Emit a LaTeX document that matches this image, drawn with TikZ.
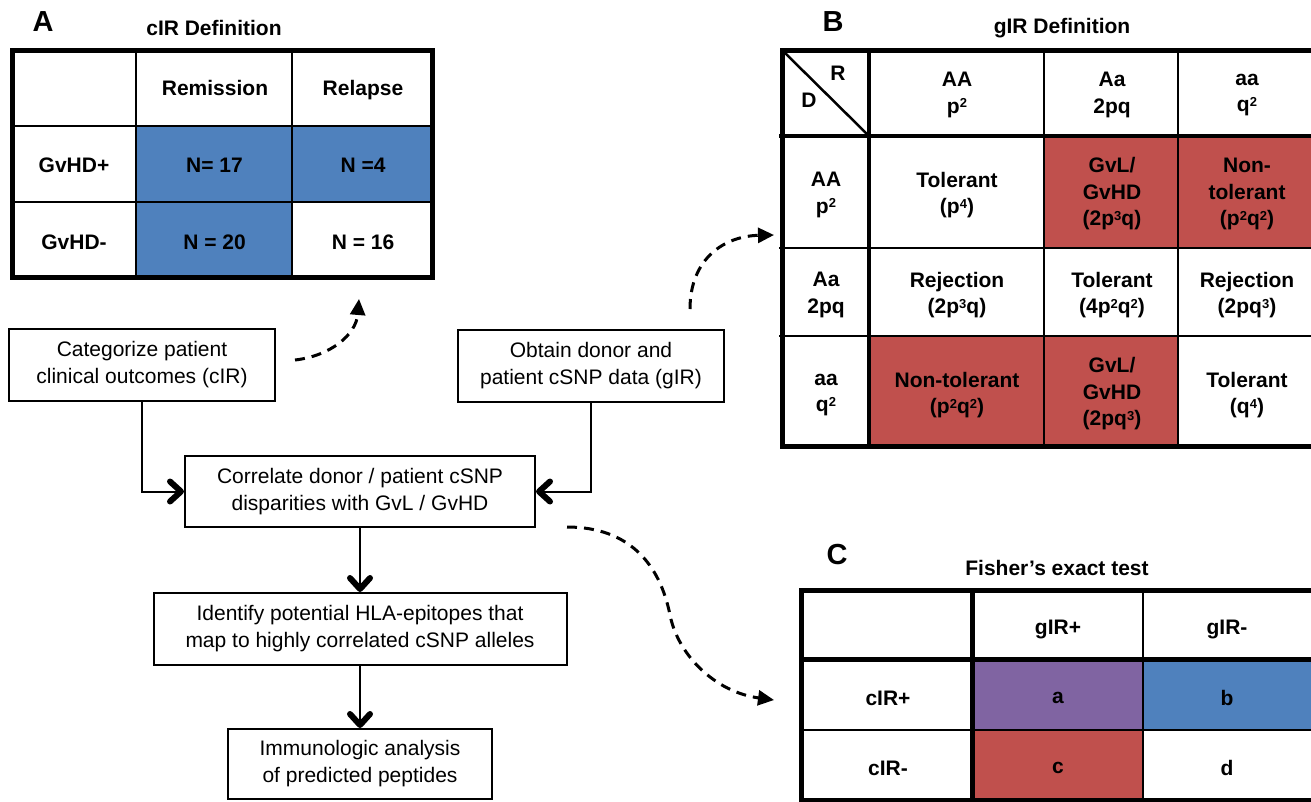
\documentclass[tikz,border=0pt]{standalone}
\usepackage{fontspec}
\setmainfont{Liberation Sans}
\usetikzlibrary{arrows.meta}
\definecolor{cblue}{HTML}{4F81BD}
\definecolor{cred}{HTML}{C0504D}
\definecolor{cpurple}{HTML}{8064A2}
\newcommand\sups[1]{\raisebox{5.5pt}{\fontsize{13}{13}\selectfont #1}}
\begin{document}
\begin{tikzpicture}[x=1pt,y=-1pt,
  cell/.style={font=\fontsize{21}{26.5}\selectfont\bfseries, align=center, inner sep=0pt},
  ttl/.style={font=\fontsize{21}{26}\selectfont\bfseries, inner sep=0pt},
  panel/.style={font=\fontsize{29}{29}\selectfont\bfseries, inner sep=0pt},
  box/.style={draw, line width=2pt, align=center, inner sep=0pt, font=\fontsize{21}{27}\selectfont, fill=white},
  flow/.style={line width=2pt, -{Straight Barb[length=11pt,width=20pt,line width=6pt,round]}},
  dflow/.style={line width=3pt, dash pattern=on 10pt off 7pt, -{Triangle[length=16pt,width=15pt]}},
  outerline/.style={line width=5pt},
  midline/.style={line width=3.5pt},
  thinline/.style={line width=2.5pt},
]
\useasboundingbox (0,0) rectangle (1311,801);
\clip (0,0) rectangle (1311,801);
\fill[white] (0,0) rectangle (1311,801);

% ---------- Panel A ----------
\fill[cblue] (136,126) rectangle (435,202);
\fill[cblue] (136,202) rectangle (292,280);
\draw[thinline] (136,48) -- (136,280);
\draw[thinline] (292,48) -- (292,280);
\draw[thinline] (10,126) -- (435,126);
\draw[thinline] (10,202) -- (435,202);
\draw[outerline] (12.5,50.5) rectangle (432.5,277.5);
\node[panel] (pA) at (43,22) {A};
\node[ttl] (tA) at (214,28) {cIR Definition};
\node[cell] (a01) at (215,88) {Remission};
\node[cell] (a02) at (363,90) {Relapse};
\node[cell] (a10) at (74,165) {GvHD+};
\node[cell] (a11) at (214.5,165) {N= 17};
\node[cell] (a12) at (363,165) {N =4};
\node[cell] (a20) at (74,242) {GvHD-};
\node[cell] (a21) at (214.5,242) {N = 20};
\node[cell] (a22) at (363,242) {N = 16};

% ---------- Panel B ----------
\fill[cred] (1044,136) rectangle (1320,248);
\fill[cred] (869,336) rectangle (1178,447);
\draw[midline] (869,48) -- (869,447);
\draw[midline] (779,136) -- (1320,136);
\draw[thinline] (1044,48) -- (1044,447);
\draw[thinline] (1178,48) -- (1178,447);
\draw[thinline] (779,248) -- (1320,248);
\draw[thinline] (779,336) -- (1320,336);
\draw[thinline] (784,52) -- (869,136);
\draw[outerline] (782,50.5) rectangle (1318.5,446.5);
\node[panel] (pB) at (833,22) {B};
\node[ttl] (tB) at (1062,28) {gIR Definition};
\node[cell] (bR) at (838,73) {R};
\node[cell] (bD) at (809,100) {D};
\node[cell] (b01) at (957,95) {AA\\p\sups{2}};
\node[cell] (b02) at (1112,95) {Aa\\2pq};
\node[cell] (b03) at (1247,95) {aa\\q\sups{2}};
\node[cell] (b10) at (826,195) {AA\\p\sups{2}};
\node[cell] (b11) at (957,195) {Tolerant\\(p\sups{4})};
\node[cell] (b12) at (1112,194) {GvL/\\GvHD\\(2p\sups{3}q)};
\node[cell] (b13) at (1247,194) {Non-\\tolerant\\(p\sups{2}q\sups{2})};
\node[cell] (b20) at (826,295) {Aa\\2pq};
\node[cell] (b21) at (957,295) {Rejection\\(2p\sups{3}q)};
\node[cell] (b22) at (1112,295) {Tolerant\\(4p\sups{2}q\sups{2})};
\node[cell] (b23) at (1247,295) {Rejection\\(2pq\sups{3})};
\node[cell] (b30) at (826,395) {aa\\q\sups{2}};
\node[cell] (b31) at (957,395) {Non-tolerant\\(p\sups{2}q\sups{2})};
\node[cell] (b32) at (1112,394) {GvL/\\GvHD\\(2pq\sups{3})};
\node[cell] (b33) at (1247,395) {Tolerant\\(q\sups{4})};

% ---------- Panel C ----------
\fill[cpurple] (972,659) rectangle (1143,730);
\fill[cblue] (1143,659) rectangle (1320,730);
\fill[cred] (972,730) rectangle (1143,805);
\draw[thinline] (1143,590) -- (1143,801);
\draw[thinline] (801,730) -- (1320,730);
\draw[outerline] (972,590) -- (972,801);
\draw[outerline] (801,659) -- (1320,659);
\draw[outerline] (801,590) rectangle (1313.5,800.5);
\node[panel] (pC) at (837,555) {C};
\node[ttl] (tC) at (1057,568) {Fisher’s exact test};
\node[cell] (c01) at (1058,629) {gIR+};
\node[cell] (c02) at (1227,629) {gIR-};
\node[cell] (c10) at (888,698) {cIR+};
\node[cell] (c11) at (1058,698) {a};
\node[cell] (c12) at (1227,698) {b};
\node[cell] (c20) at (888,768) {cIR-};
\node[cell] (c21) at (1058,768) {c};
\node[cell] (c22) at (1227,768) {d};

% ---------- Flowchart ----------
\node[box, minimum width=266pt, minimum height=72pt] (cat) at (142,365) {Categorize patient\\clinical outcomes (cIR)};
\node[box, minimum width=266pt, minimum height=72pt] (obt) at (591,366) {Obtain donor and\\patient cSNP data (gIR)};
\node[box, minimum width=350pt, minimum height=71pt] (cor) at (360,491.5) {Correlate donor / patient cSNP\\disparities with GvL / GvHD};
\node[box, minimum width=413pt, minimum height=72pt] (ide) at (360,629) {Identify potential HLA-epitopes that\\map to highly correlated cSNP alleles};
\node[box, minimum width=264pt, minimum height=70pt] (imm) at (360,764) {Immunologic analysis\\of predicted peptides};

\draw[flow] (cat.south) |- (cor.west);
\draw[flow] (obt.south) |- (cor.east);
\draw[flow] (cor.south) -- (ide.north);
\draw[flow] (ide.south) -- (imm.north);

% ---------- Dashed links ----------
\coordinate (d1s) at (295,360);
\coordinate (d1e) at (359,299);
\coordinate (d2s) at (690,309);
\coordinate (d2e) at (774,235);
\coordinate (d3s) at (567,527);
\coordinate (d3m) at (670,615);
\coordinate (d3e) at (774,700);
\draw[dflow] (d1s) .. controls (330,356) and (356,335) .. (d1e);
\draw[dflow] (d2s) .. controls (690,258) and (725,236) .. (d2e);
\draw[dflow] (d3s) .. controls (630,527) and (660,565) .. (d3m) .. controls (678,655) and (715,692) .. (d3e);
\end{tikzpicture}
\end{document}
